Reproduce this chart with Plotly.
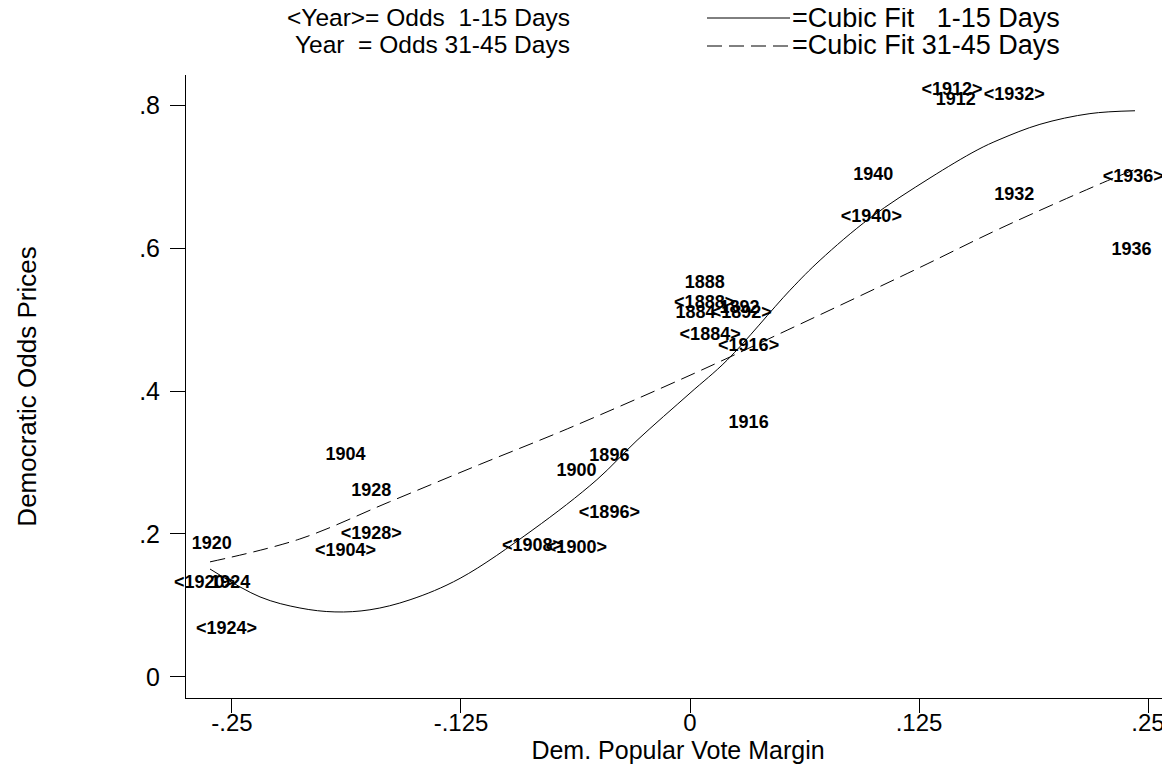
import plotly.graph_objects as go

# ---- data ----
# Odds 1-15 days before the election (shown as <Year>)
years_15 = [1884, 1888, 1892, 1896, 1900, 1904, 1908, 1912, 1916, 1920, 1924, 1928, 1932, 1936, 1940]
margin_15 = [0.011, 0.008, 0.028, -0.044, -0.062, -0.188, -0.086, 0.143, 0.032, -0.265, -0.253, -0.174, 0.177, 0.242, 0.099]
odds_15 = [0.478, 0.522, 0.509, 0.229, 0.180, 0.176, 0.182, 0.821, 0.462, 0.131, 0.066, 0.199, 0.813, 0.698, 0.642]

# Odds 31-45 days before the election (shown as Year)
years_45 = [1884, 1888, 1892, 1896, 1900, 1904, 1912, 1916, 1920, 1924, 1928, 1932, 1936, 1940]
margin_45 = [0.003, 0.008, 0.027, -0.044, -0.062, -0.188, 0.145, 0.032, -0.261, -0.251, -0.174, 0.177, 0.241, 0.100]
odds_45 = [0.509, 0.550, 0.516, 0.309, 0.287, 0.310, 0.807, 0.355, 0.185, 0.131, 0.259, 0.674, 0.597, 0.701]

# Cubic fit curves
fit15_x = [-0.262, -0.2347, -0.2129, -0.1938, -0.1747, -0.1528, -0.1255, -0.0857, -0.0508, -0.0289,
           0.0, 0.0202, 0.0546, 0.0710, 0.0983, 0.1310, 0.1567, 0.1692, 0.1910, 0.2183, 0.2429]
fit15_y = [0.151, 0.112, 0.0965, 0.091, 0.094, 0.108, 0.138, 0.206, 0.276, 0.331,
           0.397, 0.443, 0.541, 0.583, 0.642, 0.698, 0.737, 0.752, 0.773, 0.788, 0.792]
fit45_x = [-0.262, -0.213, -0.164, -0.115, -0.067, 0.0, 0.053, 0.124, 0.169, 0.225, 0.242]
fit45_y = [0.161, 0.193, 0.245, 0.297, 0.347, 0.422, 0.485, 0.571, 0.627, 0.691, 0.709]

x_ticks = [-0.25, -0.125, 0, 0.125, 0.25]
x_ticklabels = ["-.25", "-.125", "0", ".125", ".25"]
y_ticks = [0, 0.2, 0.4, 0.6, 0.8]
y_ticklabels = ["0", ".2", ".4", ".6", ".8"]

FONT = "Liberation Sans, Arial, sans-serif"
label_font = dict(family=FONT, size=18, color="black", weight="bold")

fig = go.Figure()

fig.add_trace(go.Scatter(
    x=fit15_x, y=fit15_y, mode="lines", line=dict(color="black", width=1, shape="spline"),
    name="Cubic Fit 1-15 Days", hoverinfo="skip"))
fig.add_trace(go.Scatter(
    x=fit45_x, y=fit45_y, mode="lines",
    line=dict(color="black", width=1, dash="15px,7px", shape="spline"),
    name="Cubic Fit 31-45 Days", hoverinfo="skip"))

fig.add_trace(go.Scatter(
    x=margin_15, y=odds_15, mode="text",
    text=[f"&lt;{y}&gt;" for y in years_15], textposition="middle center",
    textfont=label_font, cliponaxis=False, name="Odds 1-15 Days"))
fig.add_trace(go.Scatter(
    x=margin_45, y=odds_45, mode="text",
    text=[str(y) for y in years_45], textposition="middle center",
    textfont=label_font, cliponaxis=False, name="Odds 31-45 Days"))

# the page body adds an 8px offset; work in figure pixels (screen - 8)
OFF = 8
W, H = 1170 - OFF, 769 - OFF
L, R, T, B = 186 - OFF, 1170 - OFF, 75 - OFF, 698 - OFF
def px(xp):
    return (xp - OFF - L) / (R - L)
def py(yp):
    return (B - (yp - OFF)) / (B - T)

left_font = dict(family=FONT, size=24.5, color="black")
right_font = dict(family=FONT, size=27, color="black")
annotations = [
    dict(x=px(572), y=py(18), xref="paper", yref="paper", xanchor="right", yanchor="middle",
         text="&lt;Year&gt;= Odds\u00a0\u00a01-15 Days", showarrow=False, font=left_font),
    dict(x=px(572), y=py(45), xref="paper", yref="paper", xanchor="right", yanchor="middle",
         text="Year\u00a0\u00a0= Odds 31-45 Days", showarrow=False, font=left_font),
    dict(x=px(790), y=py(18), xref="paper", yref="paper", xanchor="left", yanchor="middle",
         text="=Cubic Fit\u00a0\u00a0\u00a01-15 Days", showarrow=False, font=right_font),
    dict(x=px(790), y=py(45), xref="paper", yref="paper", xanchor="left", yanchor="middle",
         text="=Cubic Fit 31-45 Days", showarrow=False, font=right_font),
]
shapes = [
    dict(type="line", xref="paper", yref="paper", x0=px(707), x1=px(790), y0=py(18), y1=py(18),
         line=dict(color="black", width=1)),
    dict(type="line", xref="paper", yref="paper", x0=px(707), x1=px(790), y0=py(46), y1=py(46),
         line=dict(color="black", width=1, dash="15px,7px")),
]

fig.update_layout(
    width=W, height=H,
    margin=dict(l=L, r=W - R, t=T, b=H - B, pad=0, autoexpand=False),
    paper_bgcolor="white", plot_bgcolor="white",
    showlegend=False,
    annotations=annotations, shapes=shapes,
    font=dict(family=FONT, color="black"),
)
fig.update_xaxes(
    range=[-0.2751, 0.2620], tickvals=x_ticks, ticktext=x_ticklabels,
    ticks="outside", ticklen=14, tickwidth=1, tickcolor="black",
    showline=True, linecolor="black", linewidth=1, mirror=False,
    showgrid=False, zeroline=False, automargin=False,
    ticklabelstandoff=-11,
    tickfont=dict(family=FONT, size=24, color="black"),
    title=dict(text="Dem. Popular Vote Margin", font=dict(family=FONT, size=25, color="black"), standoff=3),
)
fig.update_yaxes(
    range=[-0.0294, 0.8420], tickvals=y_ticks, ticktext=y_ticklabels,
    ticks="outside", ticklen=15, tickwidth=1, tickcolor="black",
    showline=True, linecolor="black", linewidth=1, mirror=False,
    showgrid=False, zeroline=False, automargin=False,
    ticklabelstandoff=5,
    tickfont=dict(family=FONT, size=25, color="black"),
    title=dict(text="Democratic Odds Prices", font=dict(family=FONT, size=26, color="black"), standoff=95),
)

fig.write_html("out.html")
